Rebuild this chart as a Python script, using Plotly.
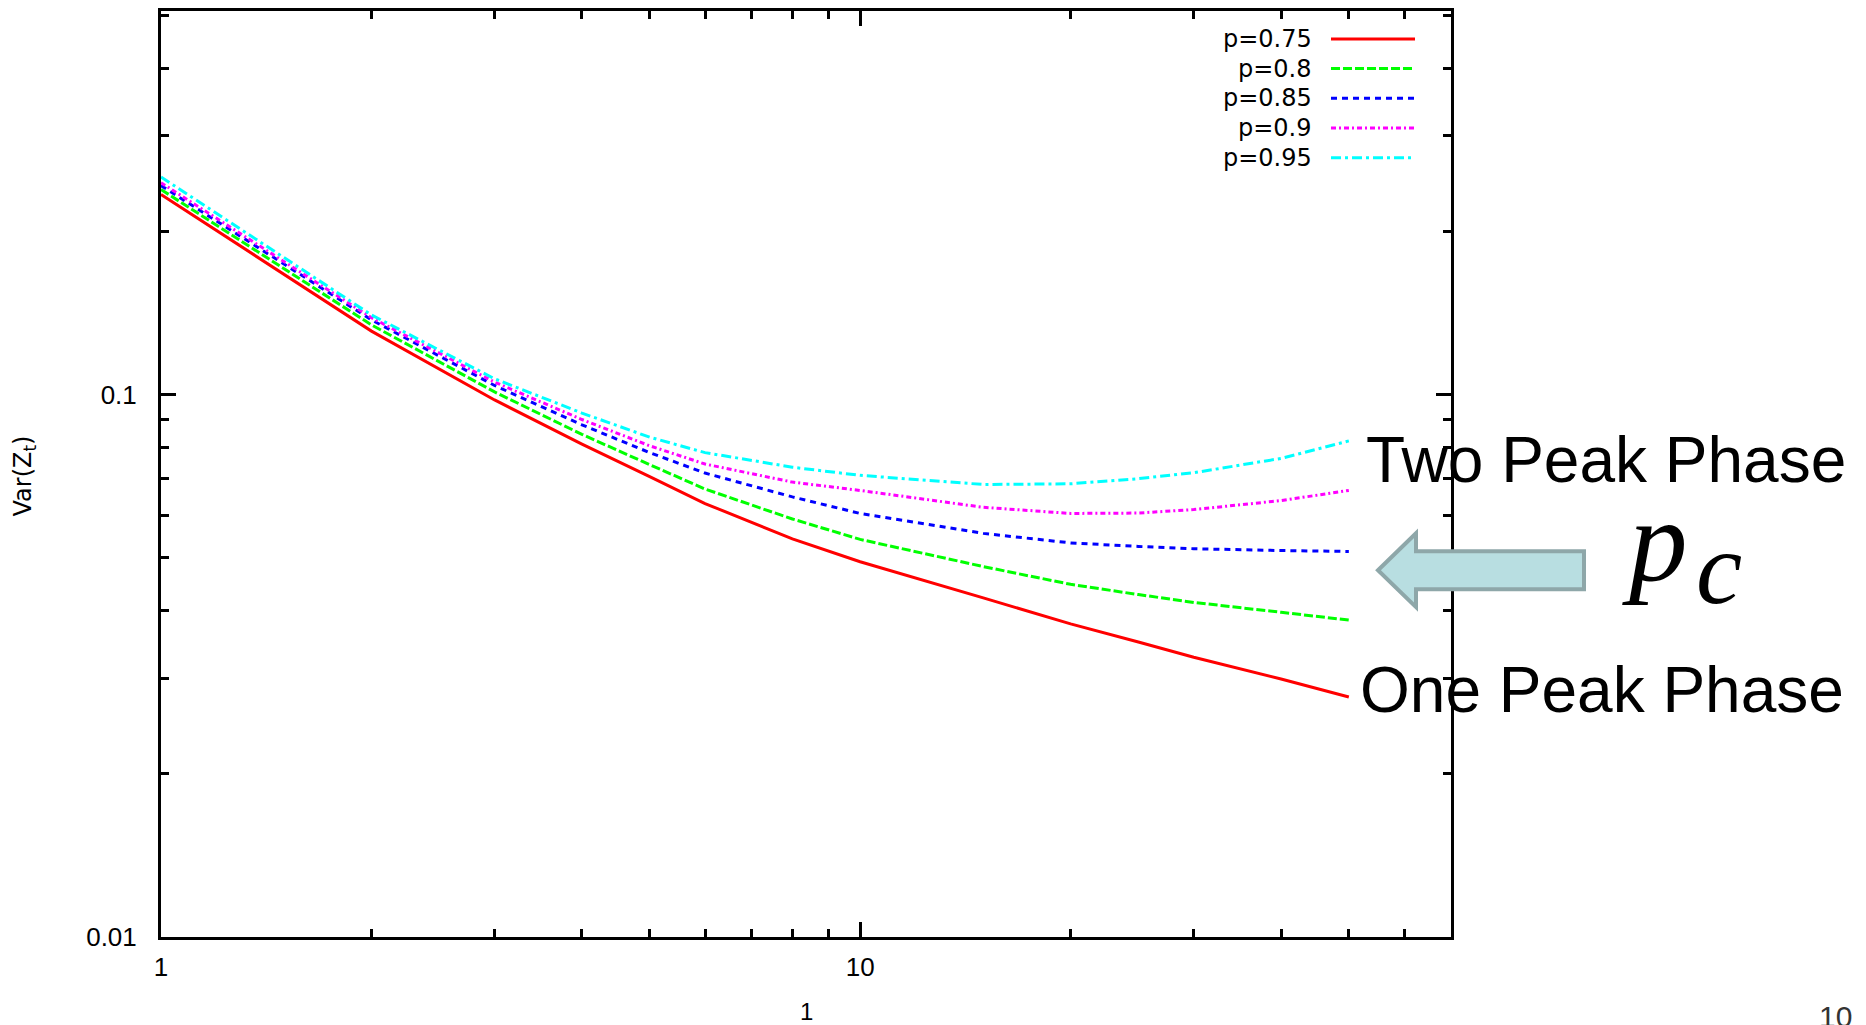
import numpy as np
import plotly.graph_objects as go

# time steps
t = [1, 2, 3, 4, 5, 6, 8, 10, 15, 20, 25, 30, 40, 50]

# Var(Z_t) for each p
var_p075 = [0.234, 0.131, 0.0978, 0.0811, 0.0706, 0.0630, 0.0542, 0.0492, 0.0422, 0.0378, 0.0350, 0.0328, 0.0299, 0.0277]
var_p080 = [0.239, 0.1345, 0.1012, 0.0845, 0.0743, 0.0670, 0.0590, 0.0541, 0.0482, 0.0447, 0.0428, 0.0414, 0.0397, 0.0384]
var_p085 = [0.243, 0.1374, 0.1040, 0.0880, 0.0782, 0.0717, 0.0648, 0.0604, 0.0555, 0.0533, 0.0525, 0.0520, 0.0516, 0.0514]
var_p090 = [0.246, 0.1387, 0.1055, 0.0900, 0.0805, 0.0745, 0.0690, 0.0666, 0.0620, 0.0604, 0.0605, 0.0614, 0.0638, 0.0666]
var_p095 = [0.252, 0.1403, 0.1070, 0.0925, 0.0835, 0.0782, 0.0735, 0.0710, 0.0683, 0.0685, 0.0700, 0.0718, 0.0763, 0.0822]

series_names = ["p=0.75", "p=0.8", "p=0.85", "p=0.9", "p=0.95"]
series_values = [var_p075, var_p080, var_p085, var_p090, var_p095]
series_colors = ["#ff0000", "#00ff00", "#0000ff", "#ff00ff", "#00ffff"]
series_dash = ["solid", "9px,3px", "6px,5px", "5px,3px,2px,3px", "10px,4px,3px,4px"]

x_major = [1, 10]
x_minor = [2, 3, 4, 5, 6, 7, 8, 9, 20, 30, 40, 50, 60]
y_major = [0.01, 0.1]
y_major_text = ["0.01", "0.1"]
y_minor = [0.02, 0.03, 0.04, 0.05, 0.06, 0.07, 0.08, 0.09, 0.2, 0.3, 0.4, 0.5]

W, H = 1866, 1025
L, R, T, B = 161, 1451, 8, 937   # plot frame in pixels


def px(x):
    return (x - L) / (R - L)


def py(y):
    return (B - y) / (B - T)


fig = go.Figure()
for name, vals, col, dash in zip(series_names, series_values, series_colors, series_dash):
    fig.add_trace(go.Scatter(x=t, y=vals, mode="lines", name=name, showlegend=False,
                             line=dict(color=col, width=3, dash=dash)))

axis_common = dict(
    type="log", showline=True, linecolor="black", linewidth=3, mirror="allticks",
    ticks="inside", ticklen=15, tickwidth=3, tickcolor="black",
    showgrid=False, zeroline=False,
    tickfont=dict(family="Liberation Sans", size=26, color="black"),
)

fig.update_layout(
    width=W, height=H,
    margin=dict(l=L, r=W - R, t=T, b=H - B, pad=0),
    paper_bgcolor="white", plot_bgcolor="white",
    xaxis=dict(axis_common, range=[0, np.log10(70)], tickmode="array", tickvals=x_major,
               ticktext=["1", "10"], ticklabelstandoff=5,
               minor=dict(tickmode="array", tickvals=x_minor, ticks="inside", ticklen=8,
                          tickwidth=3, tickcolor="black", showgrid=False)),
    yaxis=dict(axis_common, range=[-2, np.log10(0.51)], tickmode="array", tickvals=y_major,
               ticktext=y_major_text, ticklabelstandoff=16,
               minor=dict(tickmode="array", tickvals=y_minor, ticks="inside", ticklen=8,
                          tickwidth=3, tickcolor="black", showgrid=False)),
)

annotations = []
shapes = []

# key: label on the left, line sample on the right
for i, (name, col, dash) in enumerate(zip(series_names, series_colors, series_dash)):
    yc = 36 + 29.8 * i
    annotations.append(dict(x=px(1314), y=py(yc), xref="paper", yref="paper", text=name,
                            showarrow=False, xanchor="right", yanchor="middle",
                            font=dict(family="DejaVu Sans", size=24, color="black")))
    shapes.append(dict(type="line", xref="paper", yref="paper", x0=px(1331), x1=px(1415),
                       y0=py(yc), y1=py(yc), line=dict(color=col, width=3, dash=dash)))

# axis titles
annotations.append(dict(x=px(24), y=py(475), xref="paper", yref="paper",
                        text="Var(Z<sub>t</sub>)", textangle=-90, showarrow=False,
                        xanchor="center", yanchor="middle",
                        font=dict(family="DejaVu Sans", size=24, color="black")))
annotations.append(dict(x=px(806), y=py(1012), xref="paper", yref="paper", text="1",
                        showarrow=False, xanchor="center", yanchor="middle",
                        font=dict(family="Liberation Sans", size=24, color="black")))

# phase labels
annotations.append(dict(x=px(1364), y=py(458), xref="paper", yref="paper", text="Two Peak Phase",
                        showarrow=False, xanchor="left", yanchor="middle",
                        font=dict(family="Liberation Sans", size=64, color="black")))
annotations.append(dict(x=px(1358), y=py(689), xref="paper", yref="paper", text="One Peak Phase",
                        showarrow=False, xanchor="left", yanchor="middle",
                        font=dict(family="Liberation Sans", size=64, color="black")))

# critical point symbol p_c
annotations.append(dict(x=px(1620), y=py(539), xref="paper", yref="paper", text="<i>p</i>",
                        showarrow=False, xanchor="left", yanchor="middle",
                        font=dict(family="Liberation Serif", size=117, color="black")))
annotations.append(dict(x=px(1694), y=py(566), xref="paper", yref="paper", text="<i>c</i>",
                        showarrow=False, xanchor="left", yanchor="middle",
                        font=dict(family="Liberation Serif", size=104, color="black")))

# page number, partly cut off at the bottom edge
annotations.append(dict(x=px(1835), y=py(998), xref="paper", yref="paper", text="10",
                        showarrow=False, xanchor="center", yanchor="top",
                        font=dict(family="Liberation Sans", size=30, color="#333333")))

# block arrow pointing left toward the critical curve
arrow_pts = [(1378, 569), (1416, 532), (1416, 550), (1584, 550), (1584, 588),
             (1416, 588), (1416, 606)]
path = "M " + " L ".join(f"{px(x):.5f},{py(y):.5f}" for x, y in arrow_pts) + " Z"
shapes.append(dict(type="path", xref="paper", yref="paper", path=path,
                   fillcolor="#b8dee1", line=dict(color="#8ea7a9", width=4), layer="above"))

fig.update_layout(annotations=annotations, shapes=shapes)

fig.write_html("out.html")
